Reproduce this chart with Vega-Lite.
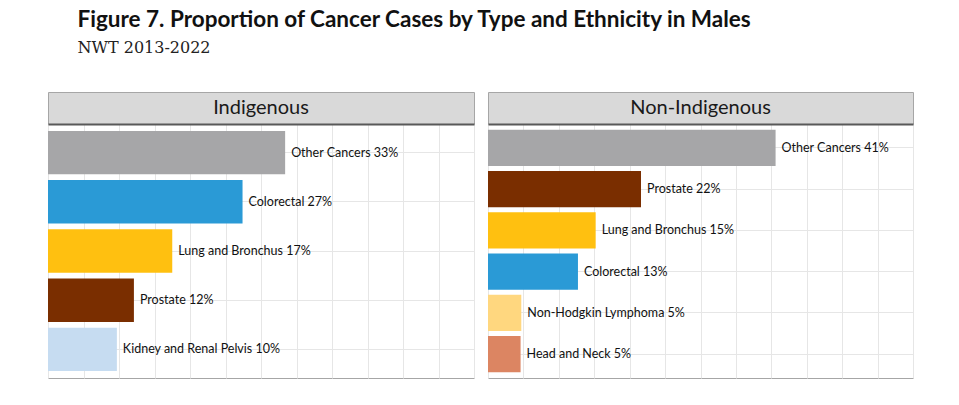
{
  "$schema": "https://vega.github.io/schema/vega-lite/v6.json",
  "padding": {"left": 47, "top": 9, "right": 5, "bottom": 5},
  "title": {
    "text": "Figure 7. Proportion of Cancer Cases by Type and Ethnicity in Males",
    "subtitle": "NWT 2013-2022",
    "anchor": "start",
    "dx": 30,
    "offset": 36,
    "font": "Lato",
    "fontSize": 22.5,
    "fontWeight": "bold",
    "color": "#111111",
    "subtitleFont": "DejaVu Serif",
    "subtitleFontSize": 16,
    "subtitleColor": "#222222",
    "subtitlePadding": 8
  },
  "datasets": {
    "cases": [
      {"panel": "Indigenous", "type": "Other Cancers", "value": 33.4, "label": "Other Cancers 33%"},
      {"panel": "Indigenous", "type": "Colorectal", "value": 27.4, "label": "Colorectal 27%"},
      {"panel": "Indigenous", "type": "Lung and Bronchus", "value": 17.5, "label": "Lung and Bronchus 17%"},
      {"panel": "Indigenous", "type": "Prostate", "value": 12.1, "label": "Prostate 12%"},
      {"panel": "Indigenous", "type": "Kidney and Renal Pelvis", "value": 9.7, "label": "Kidney and Renal Pelvis 10%"},
      {"panel": "Non-Indigenous", "type": "Other Cancers", "value": 40.6, "label": "Other Cancers 41%"},
      {"panel": "Non-Indigenous", "type": "Prostate", "value": 21.6, "label": "Prostate 22%"},
      {"panel": "Non-Indigenous", "type": "Lung and Bronchus", "value": 15.2, "label": "Lung and Bronchus 15%"},
      {"panel": "Non-Indigenous", "type": "Colorectal", "value": 12.7, "label": "Colorectal 13%"},
      {"panel": "Non-Indigenous", "type": "Non-Hodgkin Lymphoma", "value": 4.7, "label": "Non-Hodgkin Lymphoma 5%"},
      {"panel": "Non-Indigenous", "type": "Head and Neck", "value": 4.6, "label": "Head and Neck 5%"}
    ],
    "panels": [
      {"panel": "Indigenous"},
      {"panel": "Non-Indigenous"}
    ]
  },
  "spacing": 12,
  "hconcat": [
    {
      "spacing": 0,
      "bounds": "flush",
      "vconcat": [
        {
          "width": 426,
          "height": 32,
          "view": {"fill": "#d9d9d9", "stroke": "#a6a6a6"},
          "data": {"name": "panels"},
          "transform": [{"filter": "datum.panel === 'Indigenous'"}],
          "mark": {"type": "text", "font": "Lato", "fontSize": 20, "color": "#1a1a1a", "baseline": "middle", "align": "center"},
          "encoding": {"text": {"field": "panel"}}
        },
        {
          "width": 426,
          "height": 254,
          "data": {"name": "cases"},
          "transform": [{"filter": "datum.panel === 'Indigenous'"}],
          "encoding": {
            "y": {
              "field": "type",
              "type": "nominal",
              "sort": "-x",
              "scale": {"paddingInner": 0.12, "paddingOuter": 0.14},
              "axis": {"title": null, "labels": false, "ticks": false, "domain": false, "grid": true, "bandPosition": 0.5, "gridColor": "#e6e6e6"}
            },
            "x": {
              "field": "value",
              "type": "quantitative",
              "scale": {"domain": [0, 60], "nice": false},
              "axis": {"orient": "top", "title": null, "labels": false, "ticks": false, "values": [0, 5, 10, 15, 20, 25, 30, 35, 40, 45, 50, 55, 60], "grid": true, "gridColor": "#e6e6e6", "domain": true, "domainColor": "#595959", "domainWidth": 2}
            }
          },
          "layer": [
            {
              "mark": {"type": "bar"},
              "encoding": {
                "color": {
                  "field": "type",
                  "type": "nominal",
                  "legend": null,
                  "scale": {
                    "domain": ["Other Cancers", "Colorectal", "Lung and Bronchus", "Prostate", "Kidney and Renal Pelvis", "Non-Hodgkin Lymphoma", "Head and Neck"],
                    "range": ["#a6a6a8", "#2a9ad6", "#ffc010", "#7a2e00", "#c6dcf1", "#ffd77f", "#dc8562"]
                  }
                }
              }
            },
            {
              "mark": {"type": "text", "align": "left", "baseline": "middle", "dx": 6, "font": "Lato", "fontSize": 12.5, "color": "#111111"},
              "encoding": {"text": {"field": "label"}}
            }
          ]
        }
      ]
    },
    {
      "spacing": 0,
      "bounds": "flush",
      "vconcat": [
        {
          "width": 425,
          "height": 32,
          "view": {"fill": "#d9d9d9", "stroke": "#a6a6a6"},
          "data": {"name": "panels"},
          "transform": [{"filter": "datum.panel === 'Non-Indigenous'"}],
          "mark": {"type": "text", "font": "Lato", "fontSize": 20, "color": "#1a1a1a", "baseline": "middle", "align": "center"},
          "encoding": {"text": {"field": "panel"}}
        },
        {
          "width": 425,
          "height": 254,
          "data": {"name": "cases"},
          "transform": [{"filter": "datum.panel === 'Non-Indigenous'"}],
          "encoding": {
            "y": {
              "field": "type",
              "type": "nominal",
              "sort": "-x",
              "scale": {"paddingInner": 0.12, "paddingOuter": 0.14},
              "axis": {"title": null, "labels": false, "ticks": false, "domain": false, "grid": true, "bandPosition": 0.5, "gridColor": "#e6e6e6"}
            },
            "x": {
              "field": "value",
              "type": "quantitative",
              "scale": {"domain": [0, 60], "nice": false},
              "axis": {"orient": "top", "title": null, "labels": false, "ticks": false, "values": [0, 5, 10, 15, 20, 25, 30, 35, 40, 45, 50, 55, 60], "grid": true, "gridColor": "#e6e6e6", "domain": true, "domainColor": "#595959", "domainWidth": 2}
            }
          },
          "layer": [
            {
              "mark": {"type": "bar"},
              "encoding": {
                "color": {
                  "field": "type",
                  "type": "nominal",
                  "legend": null,
                  "scale": {
                    "domain": ["Other Cancers", "Colorectal", "Lung and Bronchus", "Prostate", "Kidney and Renal Pelvis", "Non-Hodgkin Lymphoma", "Head and Neck"],
                    "range": ["#a6a6a8", "#2a9ad6", "#ffc010", "#7a2e00", "#c6dcf1", "#ffd77f", "#dc8562"]
                  }
                }
              }
            },
            {
              "mark": {"type": "text", "align": "left", "baseline": "middle", "dx": 6, "font": "Lato", "fontSize": 12.5, "color": "#111111"},
              "encoding": {"text": {"field": "label"}}
            }
          ]
        }
      ]
    }
  ],
  "config": {
    "view": {"stroke": "#a6a6a6"},
    "background": "#ffffff"
  }
}
